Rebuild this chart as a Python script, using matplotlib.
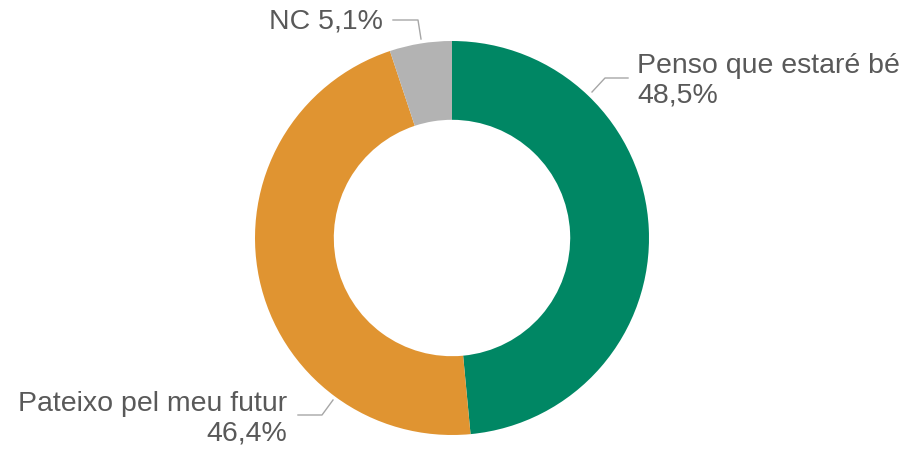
import matplotlib.pyplot as plt

# dades
labels = ['Penso que estaré bé', 'Pateixo pel meu futur', 'NC']
values = [48.5, 46.4, 5.1]
colors = ['#008764', '#E09431', '#B3B3B3']

plt.rcParams['font.family'] = ['Liberation Sans', 'DejaVu Sans']

fig = plt.figure(figsize=(9.09, 4.5), dpi=100)
ax = fig.add_axes([0, 0, 1, 1])

cx, cy, R = 452, 450 - 238, 197
ax.pie(values, colors=colors, startangle=90, counterclock=False,
       center=(cx, cy), radius=R, frame=True,
       wedgeprops=dict(width=R * 0.4, linewidth=0))
ax.set_xlim(0, 909)
ax.set_ylim(0, 450)
ax.set_aspect('equal')
ax.axis('off')

txt = '#595959'
line = '#A6A6A6'

def fmt(v):
    return f'{v:.1f}%'.replace('.', ',')

# etiqueta NC
ax.text(383, 450 - 22, f'{labels[2]} {fmt(values[2])}', ha='right', va='center',
        fontsize=20.5, color=txt)
ax.plot([393, 418, 421], [450 - 20, 450 - 20, 450 - 39], color=line, lw=1)

# etiqueta verda
ax.text(637, 450 - 81, f'{labels[0]}\n{fmt(values[0])}', ha='left', va='center',
        fontsize=20.5, color=txt, linespacing=1.18)
ax.plot([628, 605, 592], [450 - 78, 450 - 78, 450 - 92], color=line, lw=1)

# etiqueta taronja
ax.text(287, 450 - 419, f'{labels[1]}\n{fmt(values[1])}', ha='right', va='center',
        fontsize=20.5, color=txt, linespacing=1.18, multialignment='right')
ax.plot([298, 322, 333], [450 - 415, 450 - 415, 450 - 400], color=line, lw=1)

fig.savefig('out.png', dpi=100)
